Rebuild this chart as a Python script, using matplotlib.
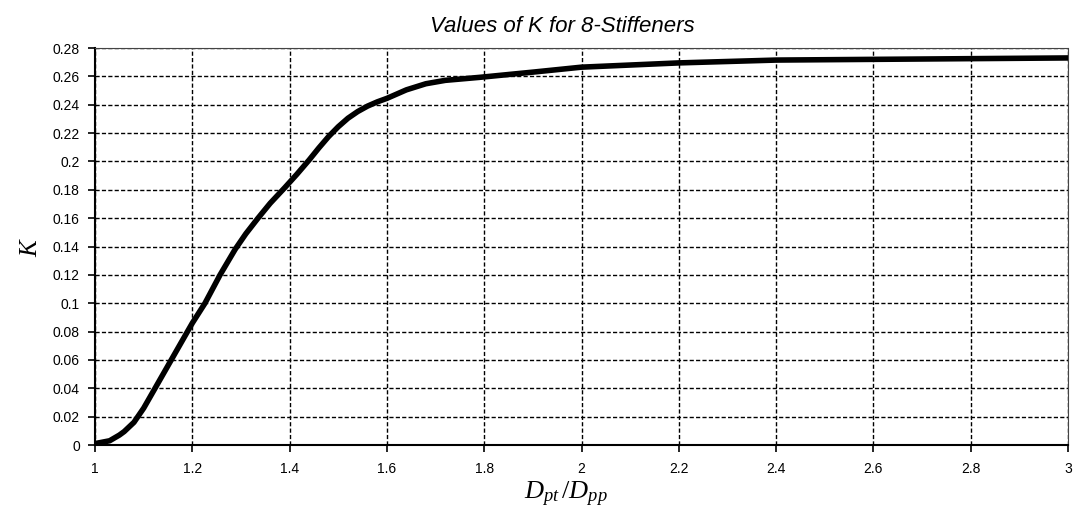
"""K versus Dpt/Dpp curve for 8 stiffeners"""

import matplotlib as mpl
mpl.use('Agg')
import matplotlib.pyplot as plt
from matplotlib.ticker import FuncFormatter, MultipleLocator

plt.rcParams['font.family'] = ['Liberation Sans', 'DejaVu Sans']
plt.rcParams['mathtext.fontset'] = 'custom'
plt.rcParams['mathtext.it'] = 'Liberation Serif:italic'
plt.rcParams['mathtext.rm'] = 'Liberation Serif'

ratio = [1.0, 1.03, 1.05, 1.06, 1.08, 1.1, 1.12, 1.14, 1.16, 1.19, 1.2,
         1.226, 1.257, 1.288, 1.31, 1.335, 1.36, 1.39, 1.415, 1.44, 1.46,
         1.48, 1.5, 1.52, 1.54, 1.56, 1.58, 1.6, 1.64, 1.68, 1.72, 1.79,
         1.9, 2.0, 2.2, 2.4, 2.6, 2.8, 3.0]
k_vals = [0.001, 0.003, 0.007, 0.0095, 0.016, 0.026, 0.038, 0.05, 0.062,
          0.08, 0.086, 0.1, 0.12, 0.138, 0.149, 0.16, 0.1705, 0.1815, 0.191,
          0.201, 0.2095, 0.2175, 0.2245, 0.2305, 0.2352, 0.239, 0.242,
          0.2445, 0.2505, 0.2548, 0.2572, 0.2593, 0.263, 0.2665, 0.2695,
          0.2715, 0.272, 0.2725, 0.273]

def main() :
    fig = plt.figure(figsize=(10.75, 5.18), dpi=100)
    ax = fig.add_axes([0.0884, 0.1409, 0.9051, 0.7664])

    ax.plot(ratio, k_vals, color='black', linewidth=4,
            solid_capstyle='butt', solid_joinstyle='round', zorder=3)

    ax.set_xlim(1, 3)
    ax.set_ylim(0, 0.28)
    ax.xaxis.set_major_locator(MultipleLocator(0.2))
    ax.yaxis.set_major_locator(MultipleLocator(0.02))
    fmt = FuncFormatter(lambda v, pos : '%g' % round(v, 4))
    ax.xaxis.set_major_formatter(fmt)
    ax.yaxis.set_major_formatter(fmt)
    ax.tick_params(axis='both', direction='out', length=5, width=1.2,
                   labelsize=10, colors='black')
    ax.tick_params(axis='x', pad=7)
    ax.tick_params(axis='y', pad=6)

    ax.grid(True, color='black', linestyle=(0, (3, 1.6)), linewidth=1.0)
    ax.set_axisbelow(True)
    for side in ['top', 'right'] :
        ax.spines[side].set_linestyle((0, (2, 1)))
        ax.spines[side].set_linewidth(0.8)
        ax.spines[side].set_color('#444444')
    for side in ['left', 'bottom'] :
        ax.spines[side].set_linewidth(1.5)
        ax.spines[side].set_color('black')

    fig.text(0.523, 1 - 32 / 518, 'Values of K for 8-Stiffeners',
             fontsize=16, style='italic', ha='center', va='baseline')
    ax.set_xlabel(r'$D_{pt}\,/D_{pp}$', fontsize=19)
    ax.xaxis.set_label_coords(0.484, -0.087)
    ax.set_ylabel(r'$K$', fontsize=18)
    ax.yaxis.set_label_coords(-0.055, 0.5)

    fig.savefig('out.png', dpi=100)

if __name__ == '__main__' :
    main()
